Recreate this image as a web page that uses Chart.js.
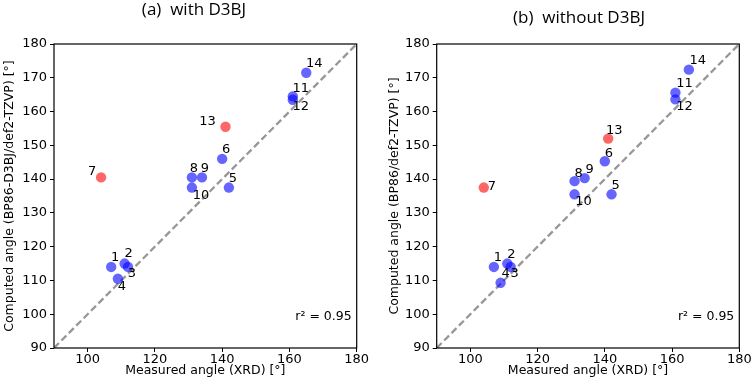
<!DOCTYPE html>
<html>
<head>
<meta charset="utf-8">
<script src="https://cdn.jsdelivr.net/npm/chart.js@4.4.0/dist/chart.umd.min.js"></script>
<style>
  html, body { margin: 0; padding: 0; background: #fff; }
  #wrap { position: relative; width: 752px; height: 380px; }
  .painel { position: absolute; top: 0; height: 380px; }
  #painelA { left: 0; width: 380px; }
  #painelB { left: 380px; width: 372px; }
</style>
</head>
<body>
<div id="wrap">
  <div class="painel" id="painelA"><canvas id="chartA" width="380" height="380"></canvas></div>
  <div class="painel" id="painelB"><canvas id="chartB" width="372" height="380"></canvas></div>
</div>
<script>
// dados
const pointIds = ["1", "2", "3", "4", "5", "6", "7", "8", "9", "10", "11", "12", "13", "14"];
const measuredAngle = [107, 111, 112, 109, 142, 140, 104, 131, 134, 131, 161, 161, 141, 165];
const computedWithD3BJ = [114, 115, 114, 110.5, 137.5, 146, 140.5, 140.5, 140.5, 137.5, 164.5, 163.5, 155.5, 171.5];
const computedWithoutD3BJ = [114, 115, 114, 109.3, 135.5, 145.3, 137.5, 139.4, 140.3, 135.5, 165.6, 163.6, 152, 172.4];
const outlierIds = ["7", "13"];
const xTicks = [100, 120, 140, 160, 180];
const yTicks = [90, 100, 110, 120, 130, 140, 150, 160, 170, 180];
const r2Values = ["0.95", "0.95"];
const panelTitles = ["(a)  with D3BJ", "(b)  without D3BJ"];
const yTitles = ["Computed angle (BP86-D3BJ/def2-TZVP) [°]", "Computed angle (BP86/def2-TZVP) [°]"];
const xTitle = "Measured angle (XRD) [°]";

// deslocamento dos rótulos (px) em relação ao ponto
const offsetsA = [[4,-9],[4,-10],[4,7],[4,8],[4,-9],[4,-9],[-9,-6],[2,-9],[3,-9],[9,8],[8,-8],[8,7],[-18,-5],[8,-9]];
const offsetsB = [[4,-9],[4,-9],[4,7],[5,-9],[4,-9],[4,-8],[8,-1],[4,-8],[5,-8],[9,7],[9,-9],[9,7],[6,-8],[9,-9]];

const FONTE = '"DejaVu Sans", sans-serif';

const decoracao = {
  id: "decoracao",
  afterDatasetsDraw(chart, args, opts) {
    const { ctx, chartArea: a } = chart;
    ctx.save();
    ctx.strokeStyle = "#000";
    ctx.lineWidth = 1.2;
    ctx.strokeRect(a.left, a.top, a.right - a.left, a.bottom - a.top);

    ctx.font = "13px " + FONTE;
    ctx.fillStyle = "#000";
    ctx.textAlign = "center";
    ctx.textBaseline = "middle";
    const meta = chart.getDatasetMeta(0);
    meta.data.forEach((pt, i) => {
      const [dx, dy] = opts.offsets[i];
      ctx.fillText(pointIds[i], pt.x + dx, pt.y + dy);
    });

    ctx.font = "12.5px " + FONTE;
    ctx.textAlign = "right";
    ctx.fillText("r² = " + opts.r2, a.right - 5, a.bottom - 31);

    ctx.font = '17px "Open Sans", sans-serif';
    ctx.textAlign = "center";
    ctx.fillText(opts.title, opts.titleX, opts.titleY);
    ctx.restore();
  }
};

function criarGrafico(id, computed, cfg) {
  const ctx = document.getElementById(id).getContext("2d");
  const pontos = measuredAngle.map((x, i) => ({ x: x, y: computed[i] }));
  const cores = pointIds.map(p => outlierIds.includes(p) ? "rgba(255,0,0,0.6)" : "rgba(0,0,255,0.6)");

  return new Chart(ctx, {
    type: "scatter",
    data: {
      datasets: [
        {
          data: pontos,
          backgroundColor: cores,
          borderWidth: 0,
          pointRadius: 5.2,
          order: 0
        },
        {
          type: "line",
          data: [{ x: 90, y: 90 }, { x: 180, y: 180 }],
          borderColor: "rgba(140,140,140,0.9)",
          borderDash: [7, 3.5],
          borderWidth: 2.3,
          pointRadius: 0,
          order: 1
        }
      ]
    },
    options: {
      responsive: false,
      animation: false,
      devicePixelRatio: 1,
      layout: { padding: { top: 44, right: cfg.padRight, bottom: 0, left: 0 } },
      plugins: {
        legend: { display: false },
        tooltip: { enabled: false },
        decoracao: { offsets: cfg.offsets, r2: cfg.r2, title: cfg.title, titleX: cfg.titleX, titleY: cfg.titleY }
      },
      scales: {
        x: {
          type: "linear",
          min: 90,
          max: 180,
          afterBuildTicks: s => { s.ticks = xTicks.map(v => ({ value: v })); },
          afterFit: s => { s.height = 32; },
          border: { display: false },
          grid: { drawOnChartArea: false, tickLength: 4, tickColor: "#000" },
          ticks: { color: "#000", font: { family: FONTE, size: 13 }, padding: 0, maxRotation: 0 },
          title: { display: true, text: xTitle, color: "#000", font: { family: FONTE, size: 12.5 }, padding: { top: 0, bottom: 2 } }
        },
        y: {
          type: "linear",
          min: 90,
          max: 180,
          afterBuildTicks: s => { s.ticks = yTicks.map(v => ({ value: v })); },
          afterFit: s => { s.width = cfg.yWidth; },
          border: { display: false },
          grid: { drawOnChartArea: false, tickLength: 4, tickColor: "#000" },
          ticks: { color: "#000", font: { family: FONTE, size: 13 }, padding: 3 },
          title: { display: true, text: cfg.yTitle, color: "#000", font: { family: FONTE, size: 12.5 }, padding: { top: cfg.yTitlePad, bottom: 0 } }
        }
      }
    },
    plugins: [decoracao]
  });
}

criarGrafico("chartA", computedWithD3BJ, {
  offsets: offsetsA, r2: r2Values[0], title: panelTitles[0], titleX: 194, titleY: 10,
  yTitle: yTitles[0], yWidth: 54, yTitlePad: 2, padRight: 23.3
});
criarGrafico("chartB", computedWithoutD3BJ, {
  offsets: offsetsB, r2: r2Values[1], title: panelTitles[1], titleX: 199, titleY: 18,
  yTitle: yTitles[1], yWidth: 56.7, yTitlePad: 7, padRight: 12.7
});
</script>
</body>
</html>
